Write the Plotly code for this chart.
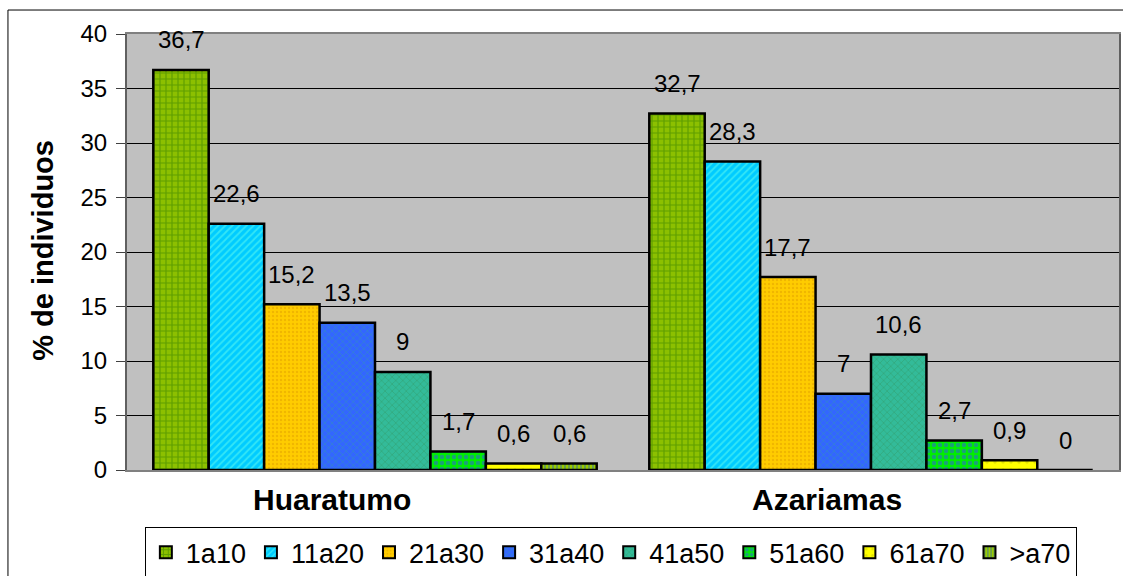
import plotly.graph_objects as go

# Age classes (series) and localities (categories)
series_names = ["1a10", "11a20", "21a30", "31a40", "41a50", "51a60", "61a70", ">a70"]
localities = ["Huaratumo", "Azariamas"]
huaratumo = [36.7, 22.6, 15.2, 13.5, 9, 1.7, 0.6, 0.6]
azariamas = [32.7, 28.3, 17.7, 7, 10.6, 2.7, 0.9, 0]
y_ticks = [0, 5, 10, 15, 20, 25, 30, 35, 40]

# fill colour, pattern colour, pattern shape, pattern size, solidity
styles = [
    ("#8CC000", "#2E7A00", "+", 6, 0.35),
    ("#00CCFF", "#66FFEE", "/", 5, 0.35),
    ("#FFCC00", "#E0A000", ".", 4, 0.3),
    ("#3366FF", "#3399AA", "x", 5, 0.3),
    ("#33BB99", "#339966", "x", 5, 0.3),
    ("#00EE00", "#3355EE", ".", 6, 0.45),
    ("#FFFF00", "#C8C800", ".", 8, 0.15),
    ("#99CC00", "#3366AA", "|", 4, 0.45),
]

FONT = "Liberation Sans, Arial, sans-serif"
n = len(series_names)
bargap = 0.106
bw = (1 - bargap) / n

fig = go.Figure()
for j, name in enumerate(series_names):
    bg, fg, shape, size, sol = styles[j]
    fig.add_trace(go.Bar(
        name=name,
        x=[0, 1],
        y=[huaratumo[j], azariamas[j]],
        marker=dict(
            color=bg,
            line=dict(color="black", width=2.5),
            pattern=dict(shape=shape, fgcolor=fg, bgcolor=bg, size=size,
                         solidity=sol, fillmode="overlay"),
        ),
    ))

annotations = []
# value labels above each bar
for i, vals in enumerate([huaratumo, azariamas]):
    for j, v in enumerate(vals):
        xc = i - (1 - bargap) / 2 + bw * (j + 0.5)
        annotations.append(dict(
            x=xc, y=v, xref="x", yref="y", text=f"{v:g}".replace(".", ","),
            showarrow=False, yshift=30, yanchor="middle",
            font=dict(family=FONT, size=24, color="black"),
        ))

# locality labels under the groups
for name, xp in zip(localities, [0.2064, 0.7056]):
    annotations.append(dict(
        x=xp, y=-0.067, xref="paper", yref="paper", text=f"<b>{name}</b>",
        showarrow=False, yanchor="middle", xanchor="center",
        font=dict(family=FONT, size=30, color="black"),
    ))

# y axis title
annotations.append(dict(
    x=-0.0847, y=0.505, xref="paper", yref="paper", text="<b>% de individuos</b>",
    showarrow=False, textangle=-90, xanchor="center", yanchor="middle",
    font=dict(family=FONT, size=29, color="black"),
))

fig.update_layout(
    width=1123, height=576,
    margin=dict(l=127, r=4, t=34, b=106, autoexpand=False),
    paper_bgcolor="white",
    plot_bgcolor="#C0C0C0",
    barmode="group",
    bargap=bargap,
    bargroupgap=0,
    font=dict(family=FONT, size=24, color="black"),
    showlegend=True,
    legend=dict(
        orientation="h", x=0.018, y=-0.131, xanchor="left", yanchor="top",
        bgcolor="white", bordercolor="black", borderwidth=1,
        font=dict(family=FONT, size=27, color="black"),
        itemsizing="constant", traceorder="normal",
    ),
    annotations=annotations,
    shapes=[dict(
        type="rect", xref="paper", yref="paper",
        x0=-0.12, x1=1.02, y0=-0.35, y1=1.055,
        line=dict(color="black", width=1), fillcolor="rgba(0,0,0,0)", layer="below",
    )],
    xaxis=dict(
        range=[-0.5, 1.5], showticklabels=False, ticks="", showgrid=False,
        zeroline=False, showline=True, linecolor="#808080", linewidth=2, mirror=True,
        fixedrange=True,
    ),
    yaxis=dict(
        range=[0, 40], tickvals=y_ticks, ticks="outside", ticklen=9,
        tickcolor="#404040", tickwidth=1, showgrid=True, gridcolor="black",
        gridwidth=1, zeroline=False, showline=True, linecolor="#606060",
        linewidth=2, mirror=True, tickfont=dict(family=FONT, size=24),
        ticklabelstandoff=4,
    ),
)

fig.write_html("out.html")
